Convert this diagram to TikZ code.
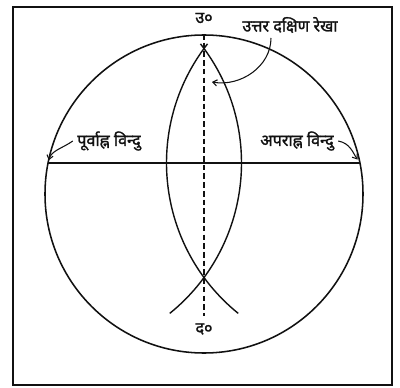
\documentclass[tikz,border=0pt]{standalone}
\usepackage{fontspec}
\newfontfamily\devfont[Script=Devanagari,FakeBold=1.3]{Noto Sans}
\usetikzlibrary{arrows.meta}
\definecolor{Ink}{HTML}{111111}
\definecolor{Paper}{HTML}{FFFFFF}
\tikzset{
  pointer/.style={draw=Ink,line width=0.75pt,-{Straight Barb[length=3pt,width=4.5pt]}},
  devlabel/.style={font=\devfont\fontsize{11.5}{13}\selectfont,text=Ink,inner sep=1pt}
}

\begin{document}
\begin{tikzpicture}[x=0.025cm,y=0.025cm]
  \useasboundingbox[fill=Paper] (-204,-193) rectangle (196,194);
  \draw[draw=Ink,line width=1.2pt] (-191,-191) rectangle (188,187);
  \draw[draw=Ink,line width=1.1pt] (0,0) circle (159);

  \coordinate (purva) at (-156,31);
  \coordinate (apara) at (156,31);
  \draw[draw=Ink,line width=1pt] (purva) -- (apara);

  % arcs struck from the two points
  \draw[draw=Ink,line width=1pt]
    (apara) ++(142:193.5) arc[start angle=142,end angle=231,radius=193.5];
  \draw[draw=Ink,line width=1pt]
    (purva) ++(38:193.5) arc[start angle=38,end angle=-51,radius=193.5];

  \coordinate (uttar) at (0,160);
  \coordinate (dakshin) at (0,-122);
  \draw[draw=Ink,line width=0.75pt,dash pattern=on 4pt off 2.2pt] (uttar) -- (dakshin);

  \node[devlabel] (ulabel) at (0,176) {उ०};
  \node[devlabel] (dlabel) at (0,-135) {द०};

  \node[devlabel] (nslabel) at (86,169) {उत्तर दक्षिण रेखा};
  \coordinate (nstail) at (67,156);
  \coordinate (nshead) at (8,112);
  \draw[pointer] (nstail) to[out=-90,in=-10] (nshead);

  \node[devlabel] (lpurva) at (-95,53) {पूर्वाह्न विन्दु};
  \draw[pointer,shorten >=2pt] ([xshift=-2pt]lpurva.west) to[out=215,in=75] (purva);

  \node[devlabel] (lapara) at (93,53) {अपराह्न विन्दु};
  \draw[pointer,shorten >=3pt] ([xshift=2pt]lapara.east) to[out=-10,in=125] (apara);
\end{tikzpicture}
\end{document}
